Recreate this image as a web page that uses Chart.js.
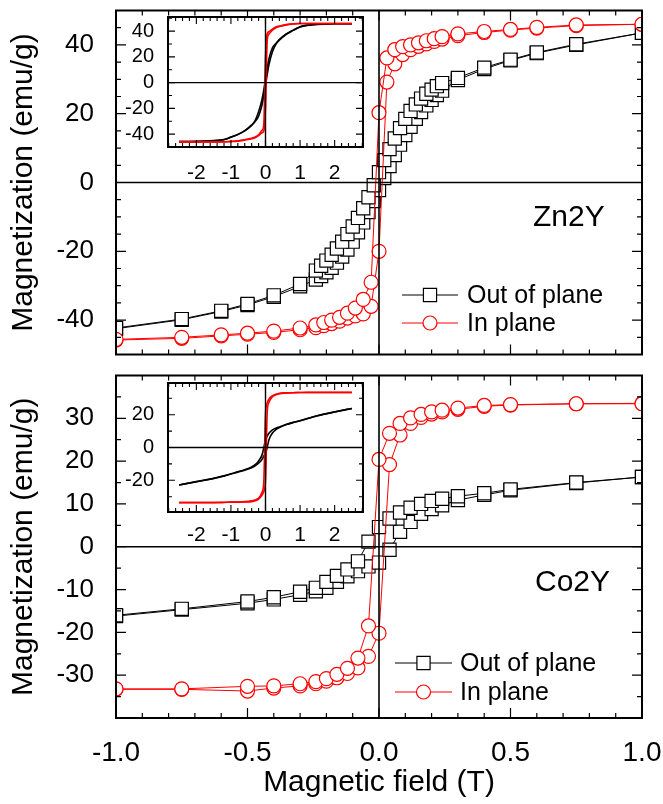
<!DOCTYPE html>
<html>
<head>
<meta charset="utf-8">
<script src="https://cdn.jsdelivr.net/npm/chart.js@4.4.1/dist/chart.umd.min.js"></script>
<style>
  body { margin: 0; background: #fff; }
  #wrap { position: relative; width: 663px; height: 804px; }
  #wrap canvas { position: absolute; }
</style>
</head>
<body>
<div id="wrap">
  <canvas id="znMain" width="663" height="365" style="left:0;top:0"></canvas>
  <canvas id="coMain" width="663" height="439" style="left:0;top:365px"></canvas>
  <canvas id="znInset" width="252" height="182" style="left:118px;top:10px"></canvas>
  <canvas id="coInset" width="252" height="176" style="left:118px;top:376px"></canvas>
</div>
<script>
const FONT = "'Liberation Sans', Arial, Helvetica, sans-serif";

// Zn2Y, out of plane (squares); "Down" = branch swept from +1 T, "Up" = from -1 T
const znOopField = [-1, -0.75, -0.6, -0.5, -0.4, -0.3, -0.24, -0.22, -0.2, -0.18, -0.16, -0.14, -0.12, -0.1, -0.08, -0.06, -0.04, -0.02, 0,
                    0.02, 0.04, 0.06, 0.08, 0.1, 0.12, 0.14, 0.16, 0.18, 0.2, 0.22, 0.24, 0.3, 0.4, 0.5, 0.6, 0.75, 1];
const znOopDown = [-42.3, -39.7, -37.3, -35.3, -32.8, -29.5, -25.6, -24.2, -22.7, -21.0, -19.2, -17.2, -15.0, -12.8, -10.3, -7.5, -4.3, -0.8, 3.0,
                   6.5, 9.7, 12.8, 15.8, 18.5, 20.8, 22.7, 24.4, 25.8, 27.0, 28.0, 28.9, 30.4, 33.4, 35.7, 37.8, 40.2, 43.5];
const znOopUp = [-42.5, -39.9, -37.5, -35.6, -33.2, -30.2, -28.2, -27.2, -26.1, -24.8, -23.3, -21.5, -19.5, -17.2, -14.5, -11.6, -8.6, -5.4, -2.2,
                 1.3, 4.8, 8.0, 11.0, 13.8, 16.2, 18.5, 20.5, 22.4, 24.0, 25.4, 26.7, 29.8, 33.0, 35.5, 37.6, 40.0, 43.5];

// Zn2Y, in plane (circles)
const znIpField = [-1, -0.75, -0.6, -0.5, -0.4, -0.3, -0.24, -0.21, -0.18, -0.15, -0.12, -0.09, -0.06, -0.03, 0,
                   0.03, 0.06, 0.09, 0.12, 0.15, 0.18, 0.21, 0.24, 0.3, 0.4, 0.5, 0.6, 0.75, 1];
const znIpDown = [-45.6, -45.0, -44.3, -43.8, -43.2, -42.3, -41.4, -40.7, -40.0, -39.2, -38.0, -36.5, -34.0, -29.0, 20.3,
                  36.2, 38.6, 39.5, 40.0, 40.6, 41.2, 41.8, 42.4, 43.2, 43.9, 44.5, 45.1, 45.8, 46.0];
const znIpUp = [-45.8, -45.3, -44.6, -44.1, -43.6, -42.8, -42.2, -41.6, -41.0, -40.3, -39.4, -38.8, -38.2, -36.0, -20.0,
                29.2, 34.5, 37.2, 38.6, 39.6, 40.3, 41.0, 41.7, 42.7, 43.6, 44.3, 44.9, 45.6, 46.0];

// Co2Y, both orientations share the field steps
const coField = [-1, -0.75, -0.5, -0.4, -0.3, -0.24, -0.2, -0.16, -0.12, -0.08, -0.04, 0,
                 0.04, 0.08, 0.12, 0.16, 0.2, 0.24, 0.3, 0.4, 0.5, 0.75, 1];
const coOopDown = [-16.0, -14.5, -12.8, -11.8, -10.5, -9.6, -8.2, -6.8, -5.3, -3.4, 1.2, 4.6,
                   6.6, 8.0, 9.1, 10.0, 10.7, 11.2, 11.8, 12.5, 13.4, 15.0, 16.3];
const coOopUp = [-16.2, -14.7, -13.2, -12.3, -11.2, -10.4, -9.6, -8.2, -6.9, -5.7, -4.6, -3.7,
                 -0.7, 3.5, 5.8, 7.7, 8.8, 9.7, 10.9, 12.1, 13.2, 14.9, 16.3];
const coIpDown = [-33.2, -33.2, -32.6, -32.5, -32.0, -31.5, -30.8, -29.8, -28.4, -26.0, -18.5, 20.4,
                  26.5, 28.8, 30.1, 30.9, 31.5, 31.9, 32.4, 33.0, 33.2, 33.4, 33.4];
const coIpUp = [-33.3, -33.3, -33.7, -33.0, -32.5, -32.0, -31.4, -30.6, -29.6, -28.3, -25.6, -20.2,
                19.2, 26.1, 28.8, 30.2, 31.0, 31.5, 32.1, 32.8, 33.1, 33.4, 33.5];

// insets: full field sweep
const insetField = [-2.5, -2, -1.5, -1.2, -1, -0.8, -0.6, -0.4, -0.3, -0.2, -0.1, -0.05, 0,
                    0.05, 0.1, 0.2, 0.3, 0.4, 0.6, 0.8, 1, 1.2, 1.5, 2, 2.5];
const znInsetOopUp = [-45.8, -45.6, -45.0, -44.2, -42.5, -40.4, -37.5, -33.2, -30.2, -26.1, -17.2, -10.0, -2.2,
                      6.4, 13.8, 24.0, 29.8, 33.0, 37.6, 40.6, 43.2, 44.5, 45.3, 45.7, 45.8];
const znInsetOopDown = [-45.8, -45.7, -45.2, -44.3, -42.3, -40.2, -37.3, -32.8, -29.5, -22.7, -12.8, -5.9, 3.0,
                        11.2, 18.5, 27.0, 30.4, 33.4, 37.8, 40.8, 43.5, 44.6, 45.4, 45.8, 45.8];
const znInsetIpUp = [-46.0, -46.0, -46.0, -45.9, -45.8, -45.5, -44.6, -43.6, -42.8, -41.2, -39.0, -37.6, -20.0,
                     33.0, 37.7, 40.7, 42.7, 43.6, 44.9, 45.6, 46.0, 46.0, 46.0, 46.0, 46.0];
const znInsetIpDown = [-46.0, -46.0, -46.0, -46.0, -45.6, -45.1, -44.3, -43.2, -42.3, -40.5, -37.0, -32.5, 20.3,
                       38.0, 39.6, 41.6, 43.2, 43.9, 45.1, 45.8, 46.0, 46.0, 46.0, 46.0, 46.0];
const coInsetOopUp = [-22.8, -20.8, -18.8, -17.3, -16.2, -15.0, -13.8, -12.3, -11.2, -9.6, -7.2, -5.2, -3.7,
                      0.2, 4.7, 8.8, 10.9, 12.1, 14.0, 15.3, 16.3, 17.5, 19.3, 21.6, 23.8];
const coInsetOopDown = [-22.8, -20.9, -18.9, -17.4, -16.0, -14.8, -13.5, -11.8, -10.5, -8.2, -4.5, -0.3, 4.6,
                        7.0, 8.7, 10.7, 11.8, 12.5, 14.0, 15.2, 16.3, 17.6, 19.4, 21.7, 23.8];
const coInsetIpUp = [-33.5, -33.5, -33.5, -33.4, -33.3, -33.3, -33.2, -33.0, -32.5, -31.4, -29.0, -26.8, -20.2,
                     21.5, 27.5, 31.0, 32.1, 32.8, 33.2, 33.4, 33.5, 33.6, 33.6, 33.6, 33.6];
const coInsetIpDown = [-33.6, -33.6, -33.6, -33.5, -33.3, -33.2, -33.0, -32.5, -32.0, -30.8, -27.3, -21.0, 20.4,
                       27.2, 29.5, 31.5, 32.4, 33.0, 33.3, 33.4, 33.5, 33.5, 33.5, 33.5, 33.5];

// tick labels
const mainXTicks = [-1, -0.5, 0, 0.5, 1];
const mainXLabels = ['-1.0', '-0.5', '0.0', '0.5', '1.0'];
const znYTicks = [-40, -20, 0, 20, 40];
const coYTicks = [-30, -20, -10, 0, 10, 20, 30];
const insetXTicks = [-2, -1, 0, 1, 2];
const znInsetYTicks = [-40, -20, 0, 20, 40];
const coInsetYTicks = [-20, 0, 20];
const legendNames = ['Out of plane', 'In plane'];

const BLACK = '#000000';
const RED = '#ff0000';
const SQUARE_R = 9.3;   // chart.js 'rect' radius -> side of about 13 px
const CIRCLE_R = 7;

function range(a, b, step) {
    const out = [];
    for (let v = a; v <= b + step / 1000; v += step) out.push(Math.round(v * 1000) / 1000);
    return out;
}

function points(fields, values) {
    return fields.map((h, i) => ({ x: h, y: values[i] }));
}

// one branch of a measured loop
function branch(fields, values, inPlane) {
    const color = inPlane ? RED : BLACK;
    return {
        data: points(fields, values),
        borderColor: color,
        borderWidth: 1,
        pointStyle: inPlane ? 'circle' : 'rect',
        pointRadius: inPlane ? CIRCLE_R : SQUARE_R,
        pointBorderWidth: 1.2,
        pointBorderColor: color,
        pointBackgroundColor: '#ffffff',
        tension: 0,
        clip: 0,
        order: inPlane ? 1 : 2
    };
}

// one branch of an inset curve
function curve(values, inPlane) {
    return {
        data: points(insetField, values),
        borderColor: inPlane ? RED : BLACK,
        borderWidth: 1.6,
        pointRadius: 0,
        cubicInterpolationMode: 'monotone',
        clip: 0,
        order: inPlane ? 1 : 2
    };
}

// frame, zero lines and inward ticks on every side
function axisFrame(o) {
    return {
        id: 'axisFrame',
        beforeDatasetsDraw(chart) {
            if (!o.fill) return;
            const a = chart.chartArea, ctx = chart.ctx;
            ctx.save();
            ctx.fillStyle = '#ffffff';
            ctx.fillRect(a.left, a.top, a.width, a.height);
            ctx.restore();
        },
        afterDatasetsDraw(chart) {
            const { ctx, chartArea: a, scales: { x, y } } = chart;
            ctx.save();
            ctx.strokeStyle = BLACK;
            ctx.lineWidth = o.zeroWidth;
            const x0 = x.getPixelForValue(0), y0 = y.getPixelForValue(0);
            ctx.beginPath();
            ctx.moveTo(a.left, y0); ctx.lineTo(a.right, y0);
            ctx.moveTo(x0, a.top); ctx.lineTo(x0, a.bottom);
            ctx.stroke();

            ctx.lineWidth = o.tickWidth;
            ctx.beginPath();
            const xTicks = (vals, len) => vals.forEach(v => {
                const p = x.getPixelForValue(v);
                ctx.moveTo(p, a.top); ctx.lineTo(p, a.top + len);
                ctx.moveTo(p, a.bottom); ctx.lineTo(p, a.bottom - len);
            });
            const yTicks = (vals, len) => vals.forEach(v => {
                const p = y.getPixelForValue(v);
                ctx.moveTo(a.left, p); ctx.lineTo(a.left + len, p);
                ctx.moveTo(a.right, p); ctx.lineTo(a.right - len, p);
            });
            xTicks(o.xMinor, o.minorLen);
            xTicks(o.xMajor, o.majorLen);
            yTicks(o.yMinor, o.minorLen);
            yTicks(o.yMajor, o.majorLen);
            ctx.stroke();

            ctx.lineWidth = o.frameWidth;
            ctx.strokeRect(a.left, a.top, a.width, a.height);
            ctx.restore();
        }
    };
}

// sample name and legend inside a main panel
function panelNotes(o) {
    return {
        id: 'panelNotes',
        afterDraw(chart) {
            const ctx = chart.ctx;
            ctx.save();
            ctx.fillStyle = BLACK;
            ctx.textBaseline = 'middle';
            ctx.font = `30px ${FONT}`;
            ctx.fillText(o.name, o.nameX, o.nameY);

            ctx.font = `25px ${FONT}`;
            legendNames.forEach((label, i) => {
                const yy = o.legendY + i * o.legendGap;
                const color = i === 0 ? BLACK : RED;
                ctx.strokeStyle = color;
                ctx.lineWidth = 1;
                ctx.beginPath();
                ctx.moveTo(o.lineX1, yy); ctx.lineTo(o.lineX2, yy);
                ctx.stroke();
                const mx = (o.lineX1 + o.lineX2) / 2;
                const half = SQUARE_R * Math.SQRT1_2;
                ctx.fillStyle = '#ffffff';
                ctx.lineWidth = 1.2;
                ctx.beginPath();
                if (i === 0) ctx.rect(mx - half, yy - half, 2 * half, 2 * half);
                else ctx.arc(mx, yy, CIRCLE_R, 0, Math.PI * 2);
                ctx.fill();
                ctx.stroke();
                ctx.fillStyle = BLACK;
                ctx.fillText(label, o.textX, yy + 1);
            });
            ctx.restore();
        }
    };
}

const baseOptions = {
    responsive: false,
    animation: false,
    events: [],
    plugins: { legend: { display: false }, tooltip: { enabled: false } }
};

function yScale(min, max, ticks, width, fontSize, pad, title) {
    return {
        min: min, max: max,
        grid: { display: false },
        border: { display: false },
        afterBuildTicks: s => { s.ticks = ticks.map(v => ({ value: v })); },
        afterFit: s => { s.width = width; s.paddingTop = 0; s.paddingBottom = 0; },
        ticks: { color: BLACK, font: { family: FONT, size: fontSize }, padding: pad, autoSkip: false },
        title: title ? {
            display: true, text: title, color: BLACK,
            font: { family: FONT, size: 30 }, padding: { top: 6, bottom: 0 }
        } : { display: false }
    };
}

function xScale(min, max, ticks, labels, height, fontSize, pad, title) {
    return {
        type: 'linear',
        min: min, max: max,
        grid: { display: false },
        border: { display: false },
        afterBuildTicks: s => { s.ticks = ticks.map(v => ({ value: v })); },
        afterFit: s => { s.height = height; s.paddingLeft = 0; s.paddingRight = 0; },
        ticks: {
            color: BLACK, font: { family: FONT, size: fontSize }, padding: pad,
            maxRotation: 0, autoSkip: false,
            callback: v => labels[ticks.indexOf(v)]
        },
        title: title ? {
            display: true, text: title, color: BLACK,
            font: { family: FONT, size: 30 }, padding: { top: 0, bottom: 3 }
        } : { display: false }
    };
}

// ---- Zn2Y main panel
new Chart(document.getElementById('znMain'), {
    type: 'line',
    data: {
        datasets: [
            branch(znOopField, znOopDown, false),
            branch(znOopField, znOopUp, false),
            branch(znIpField, znIpDown, true),
            branch(znIpField, znIpUp, true)
        ]
    },
    options: {
        ...baseOptions,
        layout: { padding: { top: 8, right: 21, bottom: 10, left: 0 } },
        scales: {
            x: { type: 'linear', min: -1, max: 1, display: false },
            y: yScale(-50, 50, znYTicks, 116, 26, 14, 'Magnetization (emu/g)')
        }
    },
    plugins: [
        axisFrame({ xMinor: range(-1, 1, 0.1), xMajor: range(-1, 1, 0.5), yMinor: range(-50, 50, 5), yMajor: znYTicks,
                    minorLen: 5, majorLen: 10, tickWidth: 1.2, frameWidth: 2, zeroWidth: 1.6 }),
        panelNotes({ name: 'Zn2Y', nameX: 533, nameY: 218, legendY: 295, legendGap: 28,
                     lineX1: 402, lineX2: 458, textX: 467 })
    ]
});

// ---- Co2Y main panel
new Chart(document.getElementById('coMain'), {
    type: 'line',
    data: {
        datasets: [
            branch(coField, coOopDown, false),
            branch(coField, coOopUp, false),
            branch(coField, coIpDown, true),
            branch(coField, coIpUp, true)
        ]
    },
    options: {
        ...baseOptions,
        layout: { padding: { top: 8, right: 21, bottom: 0, left: 0 } },
        scales: {
            x: xScale(-1, 1, mainXTicks, mainXLabels, 86, 28, 10, 'Magnetic field (T)'),
            y: yScale(-40, 40, coYTicks, 116, 26, 14, 'Magnetization (emu/g)')
        }
    },
    plugins: [
        axisFrame({ xMinor: range(-1, 1, 0.1), xMajor: range(-1, 1, 0.5), yMinor: range(-40, 40, 5), yMajor: coYTicks,
                    minorLen: 5, majorLen: 10, tickWidth: 1.2, frameWidth: 2, zeroWidth: 1.6 }),
        panelNotes({ name: 'Co2Y', nameX: 535, nameY: 218, legendY: 298, legendGap: 29,
                     lineX1: 395, lineX2: 452, textX: 460 })
    ]
});

// ---- Zn2Y inset
new Chart(document.getElementById('znInset'), {
    type: 'line',
    data: {
        datasets: [
            curve(znInsetOopDown, false),
            curve(znInsetOopUp, false),
            curve(znInsetIpDown, true),
            curve(znInsetIpUp, true)
        ]
    },
    options: {
        ...baseOptions,
        layout: { padding: { top: 7, right: 7, bottom: 0, left: 0 } },
        scales: {
            x: xScale(-2.82, 2.82, insetXTicks, insetXTicks.map(String), 45, 21, 6, null),
            y: yScale(-50, 51, znInsetYTicks, 50, 20, 6, null)
        }
    },
    plugins: [
        axisFrame({ fill: true, xMinor: range(-2.8, 2.8, 0.2), xMajor: insetXTicks, yMinor: range(-50, 50, 10), yMajor: znInsetYTicks,
                    minorLen: 4, majorLen: 7, tickWidth: 1.1, frameWidth: 2, zeroWidth: 1.4 })
    ]
});

// ---- Co2Y inset
new Chart(document.getElementById('coInset'), {
    type: 'line',
    data: {
        datasets: [
            curve(coInsetOopDown, false),
            curve(coInsetOopUp, false),
            curve(coInsetIpDown, true),
            curve(coInsetIpUp, true)
        ]
    },
    options: {
        ...baseOptions,
        layout: { padding: { top: 7, right: 7, bottom: 0, left: 0 } },
        scales: {
            x: xScale(-2.82, 2.82, insetXTicks, insetXTicks.map(String), 40, 21, 3, null),
            y: yScale(-39.3, 39.3, coInsetYTicks, 50, 20, 6, null)
        }
    },
    plugins: [
        axisFrame({ fill: true, xMinor: range(-2.8, 2.8, 0.2), xMajor: insetXTicks, yMinor: range(-30, 30, 10), yMajor: coInsetYTicks,
                    minorLen: 4, majorLen: 7, tickWidth: 1.1, frameWidth: 2, zeroWidth: 1.4 })
    ]
});
</script>
</body>
</html>
